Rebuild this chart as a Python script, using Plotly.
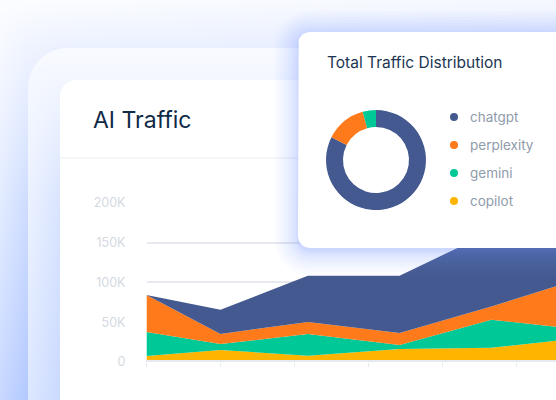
import numpy as np
import plotly.graph_objects as go

W, H = 556, 400

# stacked area data, bottom to top
days = [0, 5, 10.9, 17.1, 23.3, 29.5]
copilot = [7500, 15100, 7900, 16300, 18000, 30200]
gemini = [30300, 7500, 27300, 5100, 34900, 10600]
perplexity = [46200, 12600, 15100, 15100, 16700, 65000]
chatgpt = [0, 30300, 58000, 71800, 94000, 79300]

y_ticks = [0, 50000, 100000, 150000, 200000]
y_labels = ["0", "50K", "100K", "150K", "200K"]
x_ticks = [0, 5, 10, 15, 20, 25]

# donut
names = ["chatgpt", "perplexity", "gemini", "copilot"]
totals = [82.5, 13.2, 4.3, 0]
colors = ["#44598f", "#fe7a1b", "#00c896", "#ffb400"]


def px(x):
    return x / W


def py(y):
    return 1 - y / H


def rounded_rect(x0, y0, x1, y1, r):
    xs, ys = [], []
    corners = [(x1 - r, y0 + r, -90), (x1 - r, y1 - r, 0), (x0 + r, y1 - r, 90), (x0 + r, y0 + r, 180)]
    for cx, cy, start in corners:
        a = np.radians(np.linspace(start, start + 90, 10))
        xs += list(cx + r * np.cos(a))
        ys += list(cy + r * np.sin(a))
    return xs + xs[:1], ys + ys[:1]


def rect_cover(X, Y, x0, y0, r):
    # coverage of a rounded box open to the right and bottom
    dx = np.maximum(x0 + r - X, 0)
    dy = np.maximum(y0 + r - Y, 0)
    d = np.hypot(dx, dy) - r
    return np.clip(0.5 - d, 0, 1)


def background():
    X, Y = np.meshgrid(np.arange(W) + 0.5, np.arange(H) + 0.5)
    v = Y / H
    u = X / W
    lo = np.array([252, 253, 255.0])
    hi = np.array([191, 210, 255.0])

    a_back = (0.85 * v ** 1.1 + np.clip(X / 28, 0, 1) * 0.3 * np.clip(v * 2, 0, 1)
              + 0.12 * u + np.clip(Y / 48, 0, 1) * np.clip(X / 60, 0, 1) * 0.1)
    a_card = 0.5 * v + 0.32 * np.clip((X - 28) / 32, 0, 1) * np.clip((v - 0.15) / 0.35, 0, 1)

    outer = rect_cover(X, Y, 28, 48, 40)
    inner = rect_cover(X, Y, 60, 80, 16)
    a = a_back * (1 - outer) + a_card * outer
    img = lo + (hi - lo) * a[..., None]
    img = img * (1 - inner[..., None]) + 255 * inner[..., None]
    # header rule of the main card
    img[157:159, 60:] = [245, 246, 248]
    return np.clip(img, 0, 255).astype(int).tolist()


fig = go.Figure()

fig.add_trace(go.Image(z=background(), x0=0.5, y0=0.5, dx=1, dy=1, xaxis="x", yaxis="y", hoverinfo="skip"))

series = [("copilot", copilot, colors[3]), ("gemini", gemini, colors[2]),
          ("perplexity", perplexity, colors[1]), ("chatgpt", chatgpt, colors[0])]
for name, vals, col in series:
    fig.add_trace(go.Scatter(x=days, y=vals, name=name, mode="lines", stackgroup="one",
                             line=dict(width=0, color=col), fillcolor=col,
                             xaxis="x2", yaxis="y2", showlegend=False))

# shadow and body of the popup card
for i in range(14):
    grow = 24 * (1 - i / 14) ** 2
    sx, sy = rounded_rect(298 - grow, 32 - grow + 3, 700 + grow, 248 + grow + 3, 12 + grow)
    fig.add_trace(go.Scatter(x=sx, y=sy, mode="lines", fill="toself", line=dict(width=0),
                             fillcolor="rgba(120,160,255,0.03)", hoverinfo="skip",
                             xaxis="x3", yaxis="y3", showlegend=False))
cx, cy = rounded_rect(298, 32, 700, 248, 12)
fig.add_trace(go.Scatter(x=cx, y=cy, mode="lines", fill="toself", line=dict(width=0),
                         fillcolor="white", hoverinfo="skip", xaxis="x3", yaxis="y3", showlegend=False))

fig.add_trace(go.Pie(labels=names, values=totals, hole=0.66, sort=False, direction="clockwise",
                     rotation=0, marker=dict(colors=colors, line=dict(width=0)), textinfo="none",
                     domain=dict(x=[px(326), px(426)], y=[py(210), py(110)]), showlegend=False))

hidden = dict(visible=False, fixedrange=True)
fig.update_layout(
    width=W, height=H, margin=dict(l=0, r=0, t=0, b=0, pad=0, autoexpand=False),
    paper_bgcolor="white", plot_bgcolor="rgba(0,0,0,0)", showlegend=False,
    font=dict(family="Inter"),
    xaxis=dict(hidden, domain=[0, 1], range=[0, W]),
    yaxis=dict(hidden, domain=[0, 1], range=[H, 0], anchor="x"),
    xaxis2=dict(domain=[px(146.5), 1], range=[0, (W - 146.5) / 14.8], anchor="y2", showgrid=False,
                zeroline=False, tickmode="array", tickvals=x_ticks, showticklabels=False,
                ticks="outside", ticklen=4, tickwidth=1, tickcolor="#e6e9ef", fixedrange=True),
    yaxis2=dict(domain=[py(362), py(202.7)], range=[0, 200000], anchor="x2", tickmode="array",
                tickvals=y_ticks, ticktext=y_labels, gridcolor="#e6e9ef", gridwidth=2, zeroline=False,
                ticklabelstandoff=20, tickfont=dict(size=12.5, color="#d5d9e1"), fixedrange=True),
    xaxis3=dict(hidden, domain=[0, 1], range=[0, W], anchor="y3"),
    yaxis3=dict(hidden, domain=[0, 1], range=[H, 0], anchor="x3"),
)

# axis base line over the areas
fig.add_shape(type="line", xref="paper", yref="paper", x0=px(146), x1=1, y0=py(361), y1=py(361),
              line=dict(color="#e6e9ef", width=2), layer="above")

fig.add_annotation(text="AI Traffic", xref="paper", yref="paper", x=px(91), y=py(120), xanchor="left",
                   yanchor="middle", showarrow=False, font=dict(size=23, color="#0f2a47"))
fig.add_annotation(text="Total Traffic Distribution", xref="paper", yref="paper", x=px(324.5), y=py(63),
                   xanchor="left", yanchor="middle", showarrow=False, font=dict(size=15.5, color="#1c3552"))

legend_y = [117, 145, 173, 201]
for name, col, ly in zip(names, colors, legend_y):
    fig.add_shape(type="circle", xref="paper", yref="paper", x0=px(450), x1=px(458), y0=py(ly + 4), y1=py(ly - 4),
                  fillcolor=col, line=dict(width=0), layer="above")
    fig.add_annotation(text=name, xref="paper", yref="paper", x=px(468), y=py(ly), xanchor="left", yanchor="middle",
                       showarrow=False, font=dict(size=13.5, color="#8f9bab"))

fig.write_html("out.html", config=dict(displayModeBar=False),
               post_script="document.body.style.margin='0';document.body.style.overflow='hidden';")
